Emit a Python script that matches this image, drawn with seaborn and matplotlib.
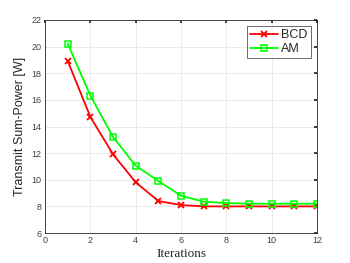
import matplotlib
matplotlib.use("Agg")
import matplotlib.pyplot as plt
import seaborn as sns
from matplotlib.lines import Line2D

iterations = [1, 2, 3, 4, 5, 6, 7, 8, 9, 10, 11, 12]
bcd = [18.9, 14.7, 11.9, 9.8, 8.4, 8.1, 8.0, 8.0, 8.0, 8.0, 8.0, 8.0]
am = [20.2, 16.3, 13.2, 11.05, 9.9, 8.8, 8.35, 8.25, 8.2, 8.2, 8.2, 8.2]
xticks = [0, 2, 4, 6, 8, 10, 12]
yticks = [6, 8, 10, 12, 14, 16, 18, 20, 22]

sns.set_theme(style="white")
plt.rcParams['font.family'] = ['Liberation Sans', 'DejaVu Sans']

fig = plt.figure(figsize=(3.5, 2.63), dpi=100)
ax = fig.add_axes([0.129, 0.114, 0.777, 0.81])

sns.lineplot(x=iterations, y=bcd, color="#ff0000", marker="x", markersize=5,
             linewidth=1.3, markeredgewidth=1.3, markeredgecolor="#ff0000", ax=ax)
sns.lineplot(x=iterations, y=am, color="#00ff00", marker="s", markersize=4.5,
             linewidth=1.3, markeredgewidth=1.1, markerfacecolor="none",
             markeredgecolor="#00ff00", ax=ax)

ax.set_xlim(0, 12)
ax.set_ylim(6, 22)
ax.set_xticks(xticks)
ax.set_yticks(yticks)
ax.grid(True, color="#e6e6e6", linewidth=0.6)
ax.tick_params(direction="in", length=2.5, labelsize=6.5, colors="#262626",
               labelcolor="#404040", top=True, right=True, pad=2.5)
for s in ax.spines.values():
    s.set_color("#262626")
    s.set_linewidth(0.6)
ax.set_xlabel("Iterations", family=["Liberation Serif", "DejaVu Serif"], fontsize=9.5,
              labelpad=2, color="#262626")
ax.set_ylabel("Transmit Sum-Power [W]", fontsize=9, labelpad=4, color="#262626")

handles = [Line2D([], [], color="#ff0000", marker="x", markersize=5, linewidth=1.3, markeredgewidth=1.3),
           Line2D([], [], color="#00ff00", marker="s", markersize=4.5, linewidth=1.3,
                  markerfacecolor="none", markeredgewidth=1.1)]
leg = ax.legend(handles, ["BCD", "AM"], loc="upper right", fontsize=9, frameon=True,
                fancybox=False, handlelength=2.2, borderpad=0.25, labelspacing=0.15,
                handletextpad=0.3, borderaxespad=0.5)
leg.get_frame().set_edgecolor("#262626")
leg.get_frame().set_linewidth(0.6)
for t in leg.get_texts():
    t.set_color("#262626")

fig.savefig("out.png", dpi=100)
